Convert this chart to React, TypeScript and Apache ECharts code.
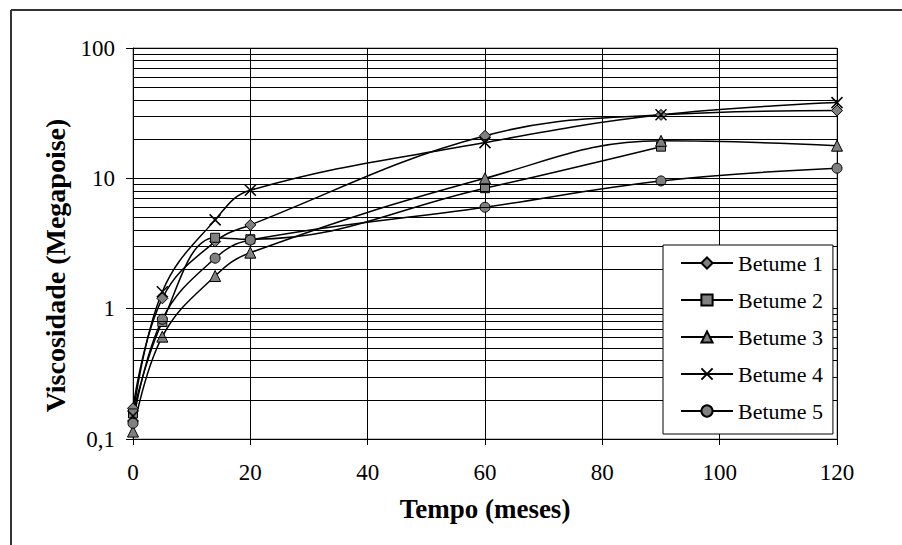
import React, { useEffect, useRef } from "react";
import * as echarts from "echarts";

const meses = [0, 5, 14, 20, 60, 90, 120];
const betume1 = [0.172, 1.2, 3.27, 4.39, 21.2, 30.7, 33.1];
const betume2 = [0.157, 0.79, 3.5, 3.41, 8.4, 17.5];
const betume3 = [0.114, 0.61, 1.78, 2.69, 10.0, 19.4, 17.8];
const betume4 = [0.15, 1.35, 4.8, 8.1, 18.8, 30.7, 38.1];
const betume5 = [0.132, 0.83, 2.44, 3.36, 6.0, 9.55, 11.96];
const seriesNames = ["Betume 1", "Betume 2", "Betume 3", "Betume 4", "Betume 5"];
const decades = [0.1, 1, 10];
const minorSteps = [2, 3, 4, 5, 6, 7, 8, 9];

const FONT = "Liberation Serif";
const CROSS = "path://M0,0L10,10M10,0L0,10";

export default function App() {
  const ref = useRef<HTMLDivElement>(null);
  useEffect(() => {
    if (!ref.current) return;
    const chart = echarts.init(ref.current, null, { renderer: "svg" });
    const values = [betume1, betume2, betume3, betume4, betume5];
    const symbols = ["diamond", "rect", "triangle", CROSS, "circle"];
    const sizes = [11, 9, 11, 11, 10];
    const minorLines: any[] = [];
    decades.forEach((d) => minorSteps.forEach((m) => minorLines.push({ yAxis: +(d * m).toPrecision(3) })));

    const series: any[] = values.map((vals, i) => ({
      name: seriesNames[i],
      type: "line",
      smooth: 0.4,
      data: vals.map((v, j) => [meses[j], v]),
      symbol: symbols[i],
      symbolSize: sizes[i],
      showSymbol: true,
      lineStyle: { color: "#000", width: 1.5 },
      itemStyle: i === 3
        ? { color: "#000", borderColor: "#000", borderWidth: 1.5 }
        : { color: "#808080", borderColor: "#000", borderWidth: 1 },
      z: 3,
    }));
    series.push({
      name: "grid",
      type: "line",
      data: [],
      z: 1,
      silent: true,
      markLine: {
        silent: true,
        symbol: "none",
        label: { show: false },
        lineStyle: { color: "#000", width: 1, type: "solid" },
        data: minorLines,
      },
    });

    chart.setOption({
      animation: false,
      backgroundColor: "#fff",
      grid: {
        left: 133,
        top: 48,
        width: 704,
        height: 391,
        show: true,
        borderColor: "#808080",
        borderWidth: 1,
      },
      xAxis: {
        type: "value",
        min: 0,
        max: 120,
        interval: 20,
        name: "Tempo (meses)",
        nameLocation: "middle",
        nameGap: 56,
        nameTextStyle: { fontFamily: FONT, fontSize: 27, fontWeight: "bold", color: "#000" },
        axisLine: { show: true, onZero: false, lineStyle: { color: "#000", width: 1 } },
        axisTick: { show: true, inside: false, length: 6, lineStyle: { color: "#000" } },
        axisLabel: { fontFamily: FONT, fontSize: 23, color: "#000", margin: 22 },
        splitLine: { show: true, lineStyle: { color: "#000", width: 1 } },
      },
      yAxis: {
        type: "log",
        logBase: 10,
        min: 0.1,
        max: 100,
        name: "Viscosidade (Megapoise)",
        nameLocation: "middle",
        nameGap: 57,
        nameTextStyle: { fontFamily: FONT, fontSize: 28, fontWeight: "bold", color: "#000", padding: [0, 44, 0, 0] },
        axisLine: { show: true, lineStyle: { color: "#000", width: 1 } },
        axisTick: { show: true, inside: false, length: 7, lineStyle: { color: "#000" } },
        axisLabel: {
          fontFamily: FONT,
          fontSize: 23,
          color: "#000",
          margin: 18,
          formatter: (v: number) => String(+v.toPrecision(3)).replace(".", ","),
        },
        splitLine: { show: true, lineStyle: { color: "#000", width: 1 } },
      },
      legend: {
        data: seriesNames,
        orient: "vertical",
        left: 663,
        top: 245,
        padding: [7, 10, 12, 17],
        itemWidth: 52,
        itemHeight: 14,
        itemGap: 15,
        backgroundColor: "#fff",
        borderColor: "#000",
        borderWidth: 1,
        textStyle: { fontFamily: FONT, fontSize: 22, color: "#000", lineHeight: 22 },
        z: 10,
      },
      graphic: [
        { type: "line", shape: { x1: 11, y1: 10, x2: 902, y2: 10 }, style: { stroke: "#333", lineWidth: 2 }, z: 20 },
        { type: "line", shape: { x1: 11, y1: 10, x2: 11, y2: 545 }, style: { stroke: "#333", lineWidth: 2 }, z: 20 },
      ],
      series,
    });
    return () => chart.dispose();
  }, []);
  return (
    <div
      ref={ref}
      style={{ position: "absolute", left: 0, top: 0, width: 902, height: 545 }}
    />
  );
}
